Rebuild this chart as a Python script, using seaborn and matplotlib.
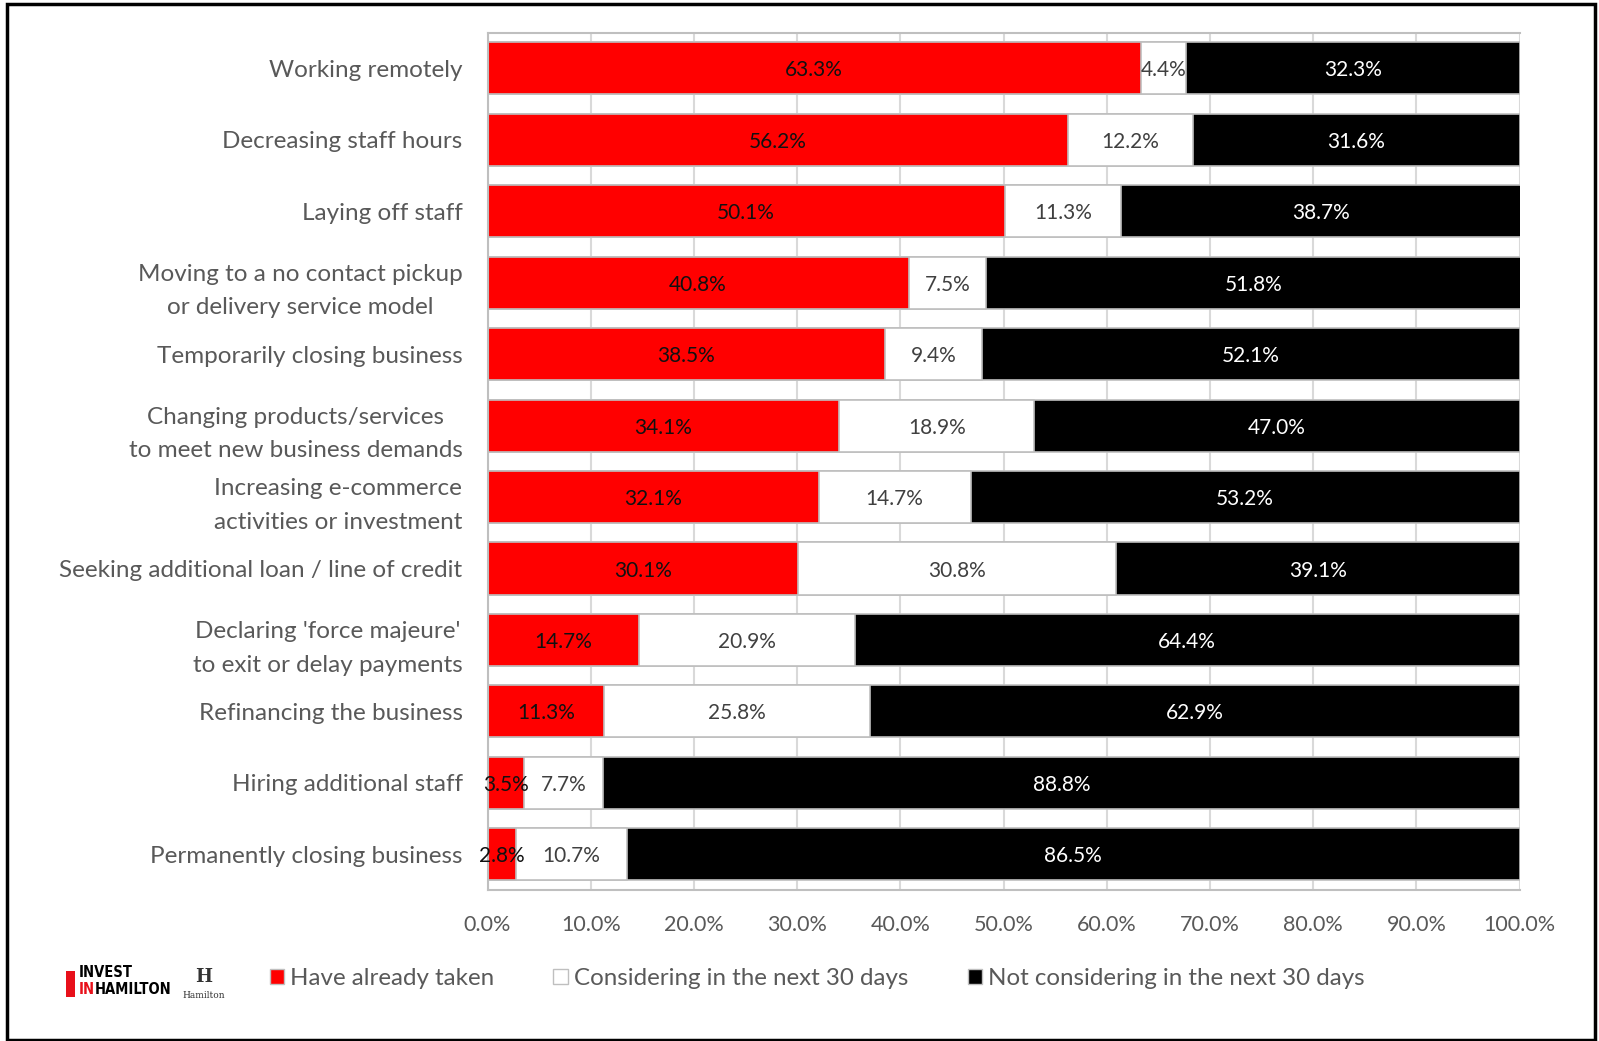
import numpy as np
import pandas as pd
import seaborn as sns
import matplotlib.pyplot as plt
from matplotlib.patches import Rectangle

categories = ["Working remotely", "Decreasing staff hours", "Laying off staff",
              "Moving to a no contact pickup\nor delivery service model",
              "Temporarily closing business",
              "Changing products/services\nto meet new business demands",
              "Increasing e-commerce\nactivities or investment",
              "Seeking additional loan / line of credit",
              "Declaring 'force majeure'\nto exit or delay payments",
              "Refinancing the business", "Hiring additional staff",
              "Permanently closing business"]
taken = [63.3, 56.2, 50.1, 40.8, 38.5, 34.1, 32.1, 30.1, 14.7, 11.3, 3.5, 2.8]
considering = [4.4, 12.2, 11.3, 7.5, 9.4, 18.9, 14.7, 30.8, 20.9, 25.8, 7.7, 10.7]
not_considering = [32.3, 31.6, 38.7, 51.8, 52.1, 47.0, 53.2, 39.1, 64.4, 62.9, 88.8, 86.5]
series_names = ["Have already taken", "Considering in the next 30 days",
                "Not considering in the next 30 days"]
x_ticks = [0, 10, 20, 30, 40, 50, 60, 70, 80, 90, 100]

sns.set_style("white")
plt.rcParams['font.family'] = ['Lato', 'DejaVu Sans']

df = pd.DataFrame({"cat": categories, "taken": taken,
                   "considering": considering, "not": not_considering})
df["c1"] = df["taken"]
df["c2"] = df["taken"] + df["considering"]
df["c3"] = df["c2"] + df["not"]

fig = plt.figure(figsize=(15.99, 10.41), dpi=100)
ax = fig.add_axes([0.3049, 0.145, 0.6454, 0.8237])

edge = "#bfbfbf"
colors = ["#ff0000", "#ffffff", "#000000"]
# stacked: draw totals first, then overlay shorter cumulative bars
for col, c in zip(["c3", "c2", "c1"], colors[::-1]):
    sns.barplot(data=df, x=col, y="cat", orient="h", color=c, width=0.73,
                edgecolor=edge, linewidth=1.2, saturation=1, ax=ax)

# value labels
txt_colors = ["#111111", "#404040", "#ffffff"]
for i, row in df.iterrows():
    lefts = [0, row["c1"], row["c2"]]
    vals = [row["taken"], row["considering"], row["not"]]
    for left, v, tc in zip(lefts, vals, txt_colors):
        ax.text(left + v / 2, i, f"{v:.1f}%", ha="center", va="center_baseline",
                color=tc, fontsize=15, zorder=5)

ax.set_xlim(0, 100)
ax.set_ylim(11.5, -0.5)
ax.set_xticks(x_ticks)
ax.set_xticklabels([f"{v:.1f}%" for v in x_ticks])
ax.xaxis.grid(True, color="#d9d9d9", lw=1.5)
ax.set_axisbelow(True)
ax.set_xlabel("")
ax.set_ylabel("")
ax.tick_params(axis="x", length=0, pad=18, labelsize=15.5, labelcolor="#595959")
ax.tick_params(axis="y", length=0, pad=18, labelsize=17.5, labelcolor="#595959")
for lab in ax.get_yticklabels():
    lab.set_multialignment("center")
    lab.set_linespacing(1.75)
for s in ax.spines.values():
    s.set_color(edge)
    s.set_linewidth(1.5)
ax.spines["right"].set_visible(False)

# legend
handles = [Rectangle((0, 0), 1, 1, facecolor=c, edgecolor=edge, lw=1) for c in colors]
fig.legend(handles, series_names, loc="center", bbox_to_anchor=(0.511, 0.06),
           ncol=3, frameon=False, fontsize=17.4, handlelength=0.6, handleheight=0.6,
           handletextpad=0.25, columnspacing=2.45, labelcolor="#595959")

# logos (approximate text)
fig.patches.append(Rectangle((0.041, 0.042), 0.006, 0.025, transform=fig.transFigure,
                             facecolor="#e8101a", edgecolor="none"))
fig.text(0.049, 0.066, "INVEST", fontsize=10.5, fontweight="bold",
         family=["DejaVu Sans"], fontstretch="condensed", color="black", va="center")
fig.text(0.049, 0.049, "IN", fontsize=10.5, fontweight="bold",
         family=["DejaVu Sans"], fontstretch="condensed", color="#e8101a", va="center")
fig.text(0.0595, 0.049, "HAMILTON", fontsize=10.5, fontweight="bold",
         family=["DejaVu Sans"], fontstretch="condensed", color="black", va="center")
fig.text(0.1275, 0.061, "H", fontsize=13, fontweight="bold", family="DejaVu Serif",
         color="#333333", ha="center", va="center")
fig.text(0.1275, 0.044, "Hamilton", fontsize=6.5, family="DejaVu Serif",
         color="#333333", ha="center", va="center")

# outer frame
fig.patches.append(Rectangle((0.0045, 0.001), 0.993, 0.995, transform=fig.transFigure,
                             fill=False, edgecolor="black", lw=2.5))

fig.savefig("out.png", dpi=100)
